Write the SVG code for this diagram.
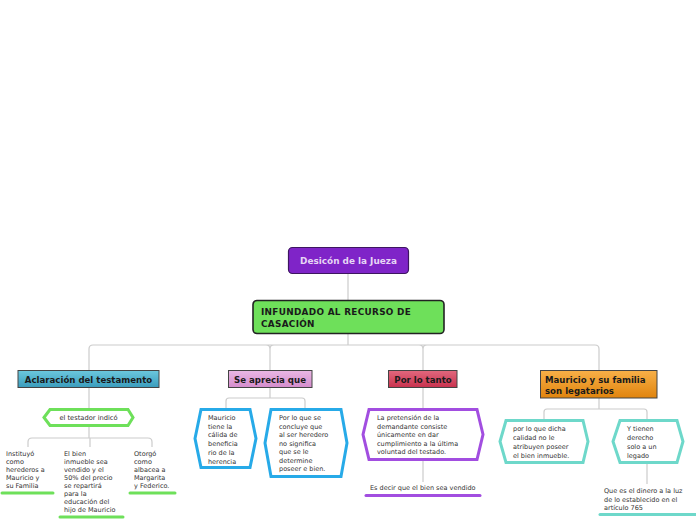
<svg xmlns="http://www.w3.org/2000/svg" width="696" height="520" viewBox="0 0 696 520">
<defs>
<linearGradient id="gTeal" x1="0" y1="0" x2="0" y2="1"><stop offset="0" stop-color="#6cc8de"/><stop offset="1" stop-color="#3a9cbc"/></linearGradient>
<linearGradient id="gPink" x1="0" y1="0" x2="0" y2="1"><stop offset="0" stop-color="#eab8e4"/><stop offset="1" stop-color="#d48ccc"/></linearGradient>
<linearGradient id="gRed" x1="0" y1="0" x2="0" y2="1"><stop offset="0" stop-color="#e2687e"/><stop offset="1" stop-color="#c8324e"/></linearGradient>
<linearGradient id="gOrange" x1="0" y1="0" x2="0" y2="1"><stop offset="0" stop-color="#f8b048"/><stop offset="1" stop-color="#e0840e"/></linearGradient>
</defs>
<style>
.conn{fill:none;stroke:#cccccc;stroke-width:1.2}
.lvl2{stroke:#444;stroke-width:1}
.t2{font-family:"DejaVu Sans",Verdana,sans-serif;font-weight:bold;font-size:8.6px;fill:#1a1a1a}
.big{font-size:8.9px;letter-spacing:0.3px}
.sm{font-family:"DejaVu Sans",Verdana,sans-serif;font-size:6.5px;fill:#333}
.sm2{font-size:6.7px}
.hex{fill:#fff;stroke-width:3;stroke-linejoin:miter}
.ul{stroke-width:3;stroke-linecap:round}
</style>
<rect width="696" height="520" fill="#fff"/>
<g id="connectors">
<path class="conn" d="M348 273V300"/>
<path class="conn" d="M348 333V345M89 370V349Q89 345 93 345H595Q599 345 599 349V370M270 349V370M423 349V370M266 345Q270 345 270 349M274 345Q270 345 270 349M419 345Q423 345 423 349M427 345Q423 345 423 349"/>
<path class="conn" d="M89 387V409M89 426V438M28 447V442Q28 438 32 438H148Q152 438 152 442V447M90 438V447"/>
<path class="conn" d="M270 387V398M226 409V401Q226 398 229 398H302Q305 398 305 401V409"/>
<path class="conn" d="M423 387V409M423 460V482"/>
<path class="conn" d="M599 398V409M544 420V412Q544 409 547 409H644Q647 409 647 412V420M647 463V484"/>
</g>
<g id="root">
<rect x="288.5" y="247.5" width="120" height="26" rx="4" fill="#7f24c8" stroke="#3d1660" stroke-width="1.2"/>
<text x="348.5" y="264" text-anchor="middle" font-family="DejaVu Sans,Verdana,sans-serif" font-weight="bold" font-size="8.9" fill="#e6d6f4">Desicón de la Jueza</text>
</g>
<g id="main">
<rect x="253" y="300.5" width="191" height="33" rx="4" fill="#6ee05a" stroke="#222" stroke-width="1.6"/>
<text class="t2 big" x="261" y="315">INFUNDADO AL RECURSO DE</text>
<text class="t2 big" x="261" y="326.5">CASACIÓN</text>
</g>
<g id="aclaracion">
<rect class="lvl2" x="18" y="370.5" width="141" height="17" fill="url(#gTeal)"/>
<text class="t2" x="88.5" y="382.5" text-anchor="middle">Aclaración del testamento</text>
</g>
<g id="se-aprecia">
<rect class="lvl2" x="228.5" y="370.5" width="83.5" height="17" fill="url(#gPink)"/>
<text class="t2" x="270" y="382.5" text-anchor="middle">Se aprecia que</text>
</g>
<g id="por-lo-tanto">
<rect class="lvl2" x="388.5" y="370.5" width="68.5" height="17" fill="url(#gRed)"/>
<text class="t2" x="423" y="382.5" text-anchor="middle">Por lo tanto</text>
</g>
<g id="mauricio">
<rect class="lvl2" x="540.5" y="370.5" width="116.5" height="27.5" fill="url(#gOrange)"/>
<text class="t2" x="545" y="383">Mauricio y su familia</text>
<text class="t2" x="545" y="394">son legatarios</text>
</g>
<g id="testador">
<polygon class="hex" stroke="#6ee05a" points="44,417.5 50,409.5 128,409.5 133,417.5 128,425.5 50,425.5"/>
<text class="sm sm2" x="88.5" y="420" text-anchor="middle">el testador indicó</text>
</g>
<g id="instituyo">
<text class="sm" x="6"><tspan x="6" y="456">Instituyó</tspan><tspan x="6" y="464">como</tspan><tspan x="6" y="472">herederos a</tspan><tspan x="6" y="480">Mauricio y</tspan><tspan x="6" y="488">su Familia</tspan></text>
<line class="ul" x1="2" y1="493" x2="53" y2="493" stroke="#6ee05a"/>
</g>
<g id="el-bien">
<text class="sm"><tspan x="64" y="456">El bien</tspan><tspan x="64" y="464">inmueble sea</tspan><tspan x="64" y="472">vendido y el</tspan><tspan x="64" y="480">50% del precio</tspan><tspan x="64" y="488">se repartirá</tspan><tspan x="64" y="496">para la</tspan><tspan x="64" y="504">educación del</tspan><tspan x="64" y="512">hijo de Mauricio</tspan></text>
<line class="ul" x1="60" y1="517" x2="123" y2="517" stroke="#6ee05a"/>
</g>
<g id="otorgo">
<text class="sm"><tspan x="134" y="456">Otorgó</tspan><tspan x="134" y="464">como</tspan><tspan x="134" y="472">albacea a</tspan><tspan x="134" y="480">Margarita</tspan><tspan x="134" y="488">y Federico.</tspan></text>
<line class="ul" x1="130" y1="493" x2="175" y2="493" stroke="#6ee05a"/>
</g>
<g id="mauricio-tiene">
<polygon class="hex" stroke="#27aae8" points="195,438.5 201,409.5 250,409.5 256,438.5 250,467.5 201,467.5"/>
<text class="sm"><tspan x="208" y="420">Mauricio</tspan><tspan x="208" y="428.7">tiene la</tspan><tspan x="208" y="437.4">cálida de</tspan><tspan x="208" y="446.1">beneficia</tspan><tspan x="208" y="454.8">rio de la</tspan><tspan x="208" y="463.5">herencia</tspan></text>
</g>
<g id="por-lo-que-se">
<polygon class="hex" stroke="#27aae8" points="265,443 271,409.5 341,409.5 347,443 341,476.5 271,476.5"/>
<text class="sm"><tspan x="279" y="420">Por lo que se</tspan><tspan x="279" y="428.5">concluye que</tspan><tspan x="279" y="437">al ser heredero</tspan><tspan x="279" y="445.5">no significa</tspan><tspan x="279" y="454">que se le</tspan><tspan x="279" y="462.5">determine</tspan><tspan x="279" y="471">poseer e bien.</tspan></text>
</g>
<g id="pretension">
<polygon class="hex" stroke="#a24ee0" points="363,434.5 369,409.5 477,409.5 483,434.5 477,459.5 369,459.5"/>
<text class="sm"><tspan x="377" y="420">La pretensión de la</tspan><tspan x="377" y="428.5">demandante consiste</tspan><tspan x="377" y="437">únicamente en dar</tspan><tspan x="377" y="445.5">cumplimiento a la última</tspan><tspan x="377" y="454">voluntad del testado.</tspan></text>
</g>
<g id="es-decir">
<text class="sm" x="370" y="490">Es decir que el bien sea vendido</text>
<line class="ul" x1="366" y1="495.5" x2="480" y2="495.5" stroke="#a24ee0"/>
</g>
<g id="por-lo-que-dicha">
<polygon class="hex" stroke="#6ed8ca" points="500,441.5 506,420.5 583,420.5 588,441.5 583,462.5 506,462.5"/>
<text class="sm"><tspan x="513" y="431">por lo que dicha</tspan><tspan x="513" y="440">calidad no le</tspan><tspan x="513" y="449">atribuyen poseer</tspan><tspan x="513" y="458">el bien inmueble.</tspan></text>
</g>
<g id="y-tienen">
<polygon class="hex" stroke="#6ed8ca" points="613,441.5 620,420.5 677,420.5 683,441.5 677,462.5 620,462.5"/>
<text class="sm"><tspan x="627" y="431">Y tienen</tspan><tspan x="627" y="440">derecho</tspan><tspan x="627" y="449">solo a un</tspan><tspan x="627" y="458">legado</tspan></text>
</g>
<g id="que-es-el-dinero">
<text class="sm"><tspan x="604" y="493">Que es el dinero a la luz</tspan><tspan x="604" y="501.5">de lo establecido en el</tspan><tspan x="604" y="510">artículo 765</tspan></text>
<line class="ul" x1="600" y1="514.5" x2="696" y2="514.5" stroke="#6ed8ca"/>
</g>
</svg>
